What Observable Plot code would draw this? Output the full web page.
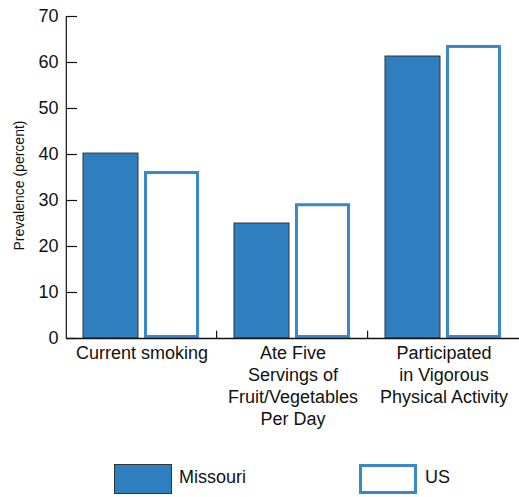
<!DOCTYPE html>
<html>
<head>
<meta charset="utf-8">
<script src="https://cdn.jsdelivr.net/npm/d3@7"></script>
<script src="https://cdn.jsdelivr.net/npm/@observablehq/plot@0.6"></script>
<style>
  html, body { margin: 0; padding: 0; background: #fff; }
  body { width: 519px; font-family: "Liberation Sans", Arial, sans-serif; }
  #legend { position: relative; height: 52px; width: 519px; }
  .sw { position: absolute; top: 19px; width: 58px; height: 30px; box-sizing: border-box; }
  .lab { position: absolute; top: 22px; font-size: 18px; color: #111; }
</style>
</head>
<body>
<div id="chart"></div>
<div id="legend">
  <div class="sw" style="left:114px; background:#2f7ebf; border:1px solid #333;"></div>
  <div class="lab" style="left:179px;">Missouri</div>
  <div class="sw" style="left:359px; background:#fff; border:3px solid #3a87c9;"></div>
  <div class="lab" style="left:425px;">US</div>
</div>
<script>
const categories = [
  "Current smoking",
  "Ate Five Servings of Fruit/Vegetables Per Day",
  "Participated in Vigorous Physical Activity"
];
const categoryLabels = [
  "Current smoking",
  "Ate Five\nServings of\nFruit/Vegetables\nPer Day",
  "Participated\nin Vigorous\nPhysical Activity"
];
const series = ["Missouri", "US"];
const missouriValues = [40.2, 25.0, 61.3];
const usValues = [36.3, 29.3, 63.7];
const yTicks = [0, 10, 20, 30, 40, 50, 60, 70];
const yLabel = "Prevalence (percent)";

const rows = [];
categories.forEach((c, i) => {
  rows.push({category: c, series: "Missouri", value: missouriValues[i]});
  rows.push({category: c, series: "US", value: usValues[i]});
});
const labelOf = new Map(categories.map((c, i) => [c, categoryLabels[i]]));

const chart = Plot.plot({
  width: 519,
  height: 445,
  marginLeft: 65,
  marginRight: 0,
  marginTop: 16,
  marginBottom: 107,
  style: {fontFamily: "'Liberation Sans', Arial, sans-serif", fontSize: "18px", color: "#111", background: "#fff"},
  fx: {domain: categories, paddingInner: 0, paddingOuter: 0, label: null},
  x: {domain: series, paddingInner: 0.097, paddingOuter: 0.27, axis: null},
  y: {domain: [0, 70], label: null},
  marks: [
    Plot.barY(rows.filter(d => d.series === "Missouri"), {
      fx: "category", x: "series", y: "value",
      fill: "#2f7ebf", stroke: "#333", strokeWidth: 1
    }),
    Plot.barY(rows.filter(d => d.series === "US"), {
      fx: "category", x: "series", y: "value",
      fill: "#fff", stroke: "#3a87c9", strokeWidth: 3, inset: 1.5
    }),
    Plot.ruleY([0], {stroke: "#111", strokeWidth: 1.5}),
    Plot.ruleX(categories.slice(0, 2), {
      fx: d => d, x: () => "US", y1: 0, y2: 1.6, dx: 44.6, stroke: "#111", strokeWidth: 1.2
    }),
    Plot.ruleX([categories[0]], {
      fx: d => d, x: () => "Missouri", y1: 0, y2: 70, dx: -44.7, stroke: "#111", strokeWidth: 1.2
    }),
    Plot.axisY(yTicks, {tickSize: 0, tickPadding: 8, fontSize: 18, label: null}),
    Plot.axisY(yTicks, {tickSize: -11, tickFormat: () => "", label: null, stroke: "#111", strokeWidth: 1.2}),
    Plot.axisFx({anchor: "bottom", tickSize: 0, tickPadding: 5, fontSize: 18, lineHeight: 1.22, label: null, tickFormat: d => labelOf.get(d)}),
    Plot.text([yLabel], {
      fx: () => categories[0], frameAnchor: "left", textAnchor: "middle", text: d => d, rotate: -90,
      dx: -47, dy: 8, fontSize: 14, fill: "#111"
    })
  ]
});
document.getElementById("chart").appendChild(chart);
</script>
</body>
</html>
